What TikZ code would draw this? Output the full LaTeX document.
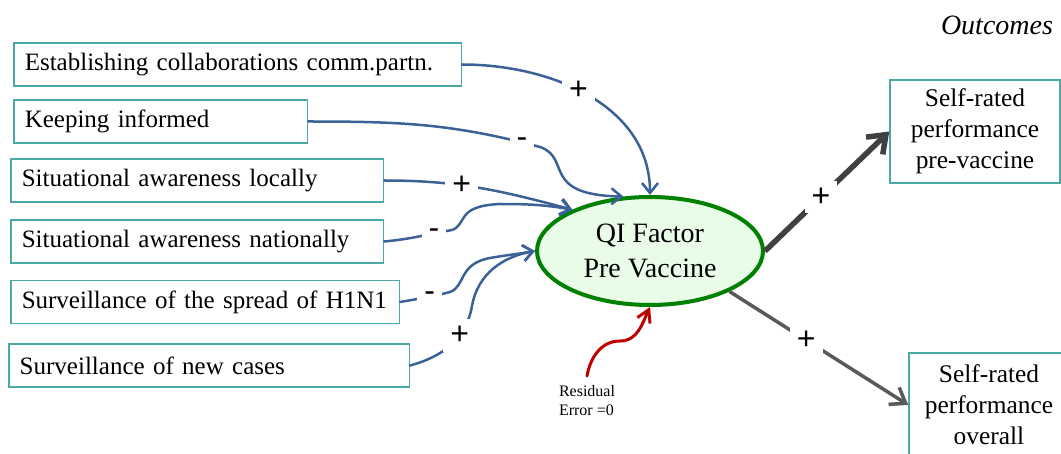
\documentclass[tikz,border=0pt]{standalone}
\usepackage{fontspec}
\setmainfont{Liberation Serif}
\newfontfamily\signfont{Liberation Sans}
\usepackage{tikz}
\usetikzlibrary{arrows.meta, shapes.geometric}

\definecolor{boxteal}{RGB}{75,168,168}
\definecolor{linkblue}{RGB}{58,98,150}
\definecolor{qigreen}{RGB}{0,128,0}
\definecolor{qifill}{RGB}{232,252,232}
\definecolor{errred}{RGB}{192,0,0}
\definecolor{outdark}{RGB}{64,64,64}
\definecolor{outgray}{RGB}{89,89,89}

\begin{document}
\begin{tikzpicture}[x=0.5pt, y=-0.5pt,
    factor/.style={draw=boxteal, line width=0.75pt, anchor=west, align=left, inner xsep=5.5pt,
        minimum height=21.5pt, font=\fontsize{12.5}{15.5}\selectfont},
    outcome/.style={draw=boxteal, line width=0.75pt, align=center, inner sep=2pt,
        font=\fontsize{12.7}{15.5}\selectfont},
    link/.style={draw=linkblue, line width=1.25pt, line cap=round, -{Straight Barb[length=5pt, width=8pt]}},
    sign/.style={fill=white, text=black, inner sep=3.5pt, font=\signfont\fontsize{16}{16}\selectfont}]
    \useasboundingbox (0, 0) rectangle (1061, 454);

    % predictors
    \node[factor, text width=212.75pt] (collab) at (13, 64.5) {Establishing collaborations comm.partn.};
    \node[factor, text width=135.75pt] (inform) at (13, 121.5) {Keeping informed};
    \node[factor, text width=175.25pt] (local) at (10, 180.5) {Situational awareness locally};
    \node[factor, text width=175.25pt] (nation) at (10, 241.5) {Situational awareness nationally};
    \node[factor, text width=183.25pt] (spread) at (10, 302) {Surveillance of the spread of H1N1};
    \node[factor, text width=189.25pt] (cases) at (8, 365.5) {Surveillance of new cases};

    % latent factor
    \node[ellipse, draw=qigreen, fill=qifill, line width=2pt, minimum width=113pt, minimum height=54pt,
        align=center, font=\fontsize{14}{17.5}\selectfont] (qi) at (650, 251) {QI Factor\\Pre Vaccine};

    % outcomes
    \node[font=\itshape\fontsize{14}{14}\selectfont] (outc) at (997, 25) {Outcomes};
    \node[outcome, minimum width=85pt, minimum height=51.5pt] (prevac) at (975, 131.5) {Self-rated\\performance\\pre-vaccine};
    \node[outcome, minimum width=80pt, minimum height=52pt] (overall) at (989, 405) {Self-rated\\performance\\overall};

    \node[align=left, font=\fontsize{8}{9.5}\selectfont] (resid) at (587, 401) {Residual\\Error =0};
    \coordinate (res) at (587, 376);

    \draw[link] (collab.east) to[out=0, in=90] node[sign, pos=0.45] {+} (qi.north);
    \draw[link] (inform.east) to[out=0, in=165] node[sign, pos=0.93] {-} (540, 147)
        .. controls (572, 158) and (540, 195) .. (qi.116);
    \draw[link] (local.east) to[out=0, in=165] node[sign, pos=0.4] {+} (qi.152);
    \draw[link] (nation.east) to[out=5, in=190] node[sign, pos=0.75] {-} (452, 230)
        .. controls (468, 224) and (455, 206) .. (500, 204) to[out=0, in=170] (qi.152);
    \draw[link] (spread.east) to[out=10, in=195] node[sign, pos=0.6] {-} (450, 292)
        .. controls (466, 286) and (458, 264) .. (490, 258) to[out=10, in=190] (qi.west);
    \draw[link] (cases.east) to[out=15, in=-100] node[sign, pos=0.65] {+} (472, 306)
        to[out=80, in=190] (qi.west);

    \draw[errred, line width=1.5pt, line cap=round, -{Straight Barb[length=6pt, width=7pt]}]
        (res) to[out=80, in=180] (620, 341) to[out=0, in=-115] (qi.south);

    \draw[outdark, line width=2.75pt, -{Straight Barb[length=8pt, width=12pt]}]
        (qi.east) -- node[sign, pos=0.45] {+} (prevac.west);
    \draw[outgray, line width=1.75pt, -{Straight Barb[length=7pt, width=10pt]}]
        (qi.-27) -- node[sign, pos=0.43] {+} (overall.west);
\end{tikzpicture}
\end{document}
